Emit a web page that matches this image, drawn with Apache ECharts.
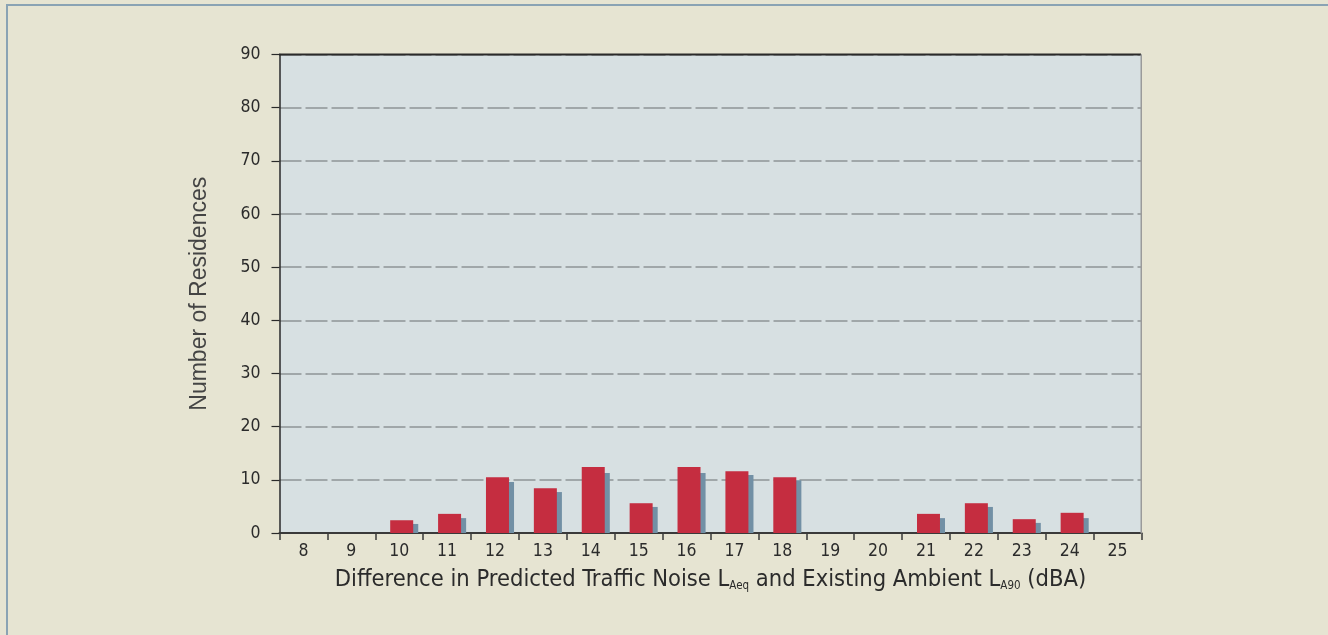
<!DOCTYPE html>
<html><head><meta charset="utf-8">
<script src="https://cdn.jsdelivr.net/npm/echarts@6/dist/echarts.min.js"></script>
<style>html,body{margin:0;padding:0;background:#e6e4d2}#c{width:1328px;height:635px}</style>
</head><body><div id="c"></div>
<script>
var categories = ['8','9','10','11','12','13','14','15','16','17','18','19','20','21','22','23','24','25'];
var redValues  = [0,0,2.4,3.6,10.5,8.4,12.4,5.6,12.4,11.6,10.5,0,0,3.6,5.6,2.6,3.8,0];
var blueValues = [0,0,1.7,2.8,9.6,7.7,11.3,4.9,11.3,10.9,9.9,0,0,2.8,4.9,1.9,2.8,0];
var yTicks = {min:0, max:90, interval:10};
var yName = 'Number of Residences';

var narrow = '"DejaVu Sans Condensed","Liberation Sans Narrow",sans-serif';
var chart = echarts.init(document.getElementById('c'));
chart.setOption({
  backgroundColor:'#e6e4d2',
  animation:false,
  graphic:[
    {type:'rect', shape:{x:6,y:4,width:1322,height:2}, style:{fill:'#8aa3b4'}, silent:true},
    {type:'rect', shape:{x:6,y:4,width:2,height:631}, style:{fill:'#8aa3b4'}, silent:true},
    {type:'rect', shape:{x:279,y:53.5,width:862,height:2}, style:{fill:'#2a2a2a'}, silent:true, z:10},
    {type:'rect', shape:{x:1140.5,y:54.5,width:1.5,height:479}, style:{fill:'#9a9a9a'}, silent:true, z:10},
    {type:'text', x:710.5, y:567, style:{
      align:'center', verticalAlign:'top',
      rich:{n:{fontSize:23.5,fontFamily:narrow,fill:'#2b2b2b'},s:{fontSize:11.5,fontFamily:narrow,fill:'#2b2b2b',padding:[13,0,0,0]}},
      text:'{n|Difference in Predicted Traffic Noise L}{s|Aeq}{n| and Existing Ambient L}{s|A90}{n| (dBA)}'
    }}
  ],
  grid:[
    {left:279.5,right:186.5,top:54.5,bottom:102,show:true,backgroundColor:'#d7e0e2',borderWidth:0},
    {left:284.5,right:181.5,top:54.5,bottom:102,show:false}
  ],
  xAxis:[{
    type:'category', data:categories, boundaryGap:true, gridIndex:0,
    axisLine:{lineStyle:{color:'#3a3a3a',width:2}},
    axisTick:{show:true,length:7,lineStyle:{color:'#3a3a3a',width:1.5}},
    axisLabel:{fontSize:17.5,fontFamily:narrow,color:'#2b2b2b',margin:9}
  },{
    type:'category', data:categories, boundaryGap:true, gridIndex:1, show:false
  }],
  yAxis:[{
    type:'value', min:yTicks.min, max:yTicks.max, interval:yTicks.interval, gridIndex:0,
    name:yName, nameLocation:'middle', nameGap:68, nameRotate:90,
    nameTextStyle:{fontSize:23,fontFamily:'"Liberation Sans",Arial,sans-serif',color:'#444'},
    axisLine:{show:true,lineStyle:{color:'#2a2a2a',width:1.5}},
    axisTick:{show:true,length:8,lineStyle:{color:'#2a2a2a',width:1.2}},
    axisLabel:{fontSize:17.5,fontFamily:narrow,color:'#2b2b2b',margin:19},
    splitLine:{show:true,lineStyle:{color:'#8f9497',width:1.5,type:[22,4]}}
  },{
    type:'value', min:yTicks.min, max:yTicks.max, interval:yTicks.interval, gridIndex:1, show:false,
    splitLine:{show:false}
  }],
  series:[
    {type:'bar', name:'red', data:redValues, xAxisIndex:1, yAxisIndex:1, barWidth:23, barGap:'-78%', z:3,
     itemStyle:{color:'#c52d40'}},
    {type:'bar', name:'blue', data:blueValues, xAxisIndex:1, yAxisIndex:1, barWidth:23, barGap:'-78%', z:2,
     itemStyle:{color:'#7290a5'}}
  ]
});
</script></body></html>
